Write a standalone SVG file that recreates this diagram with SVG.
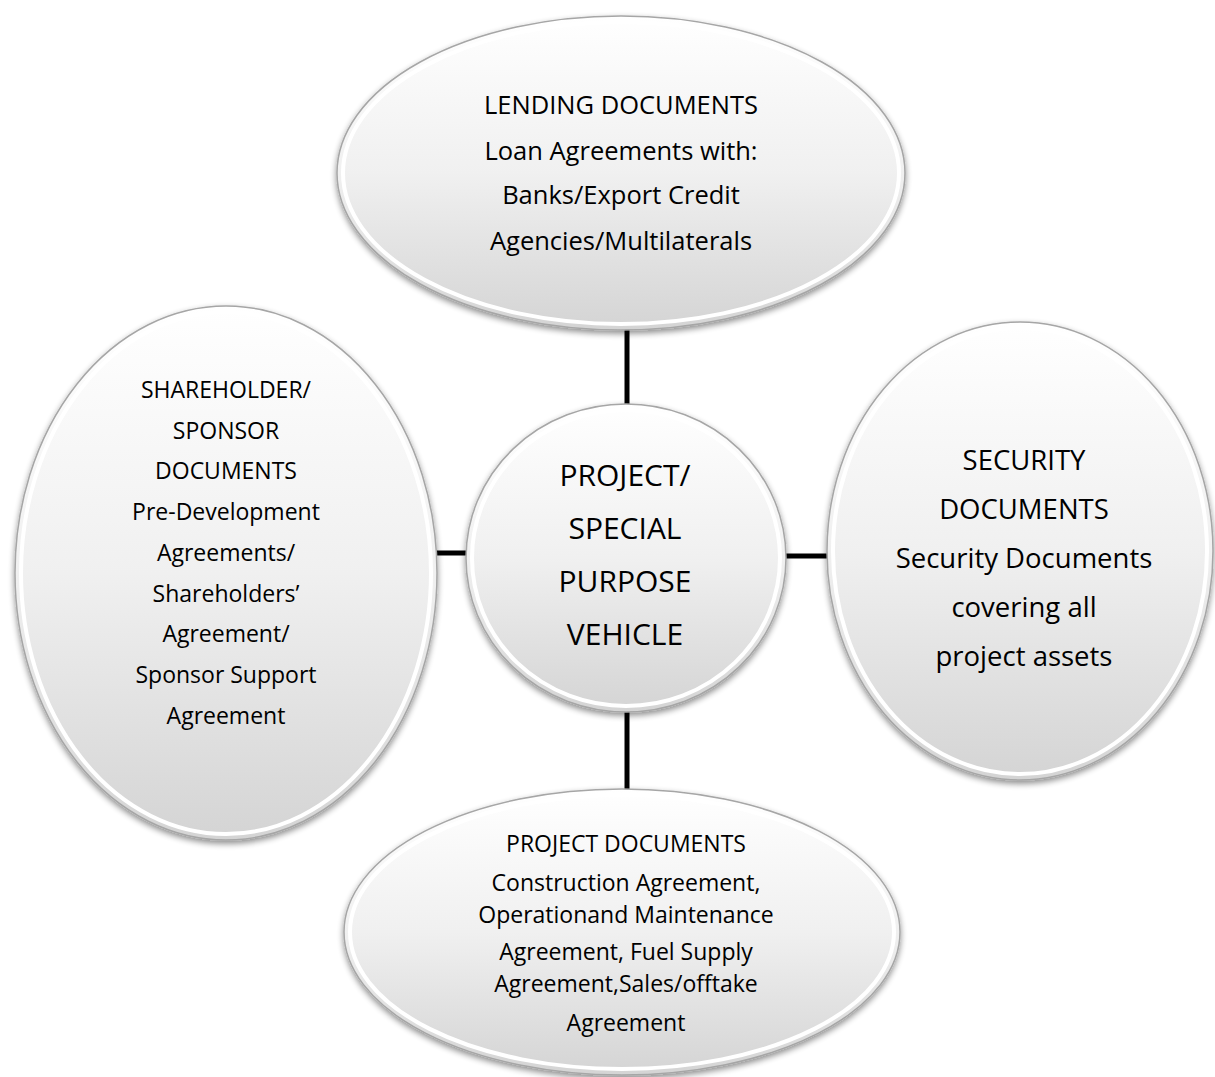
<svg xmlns="http://www.w3.org/2000/svg" width="1215" height="1077" viewBox="0 0 1215 1077">
<style>
.t{font-family:"Open Sans","Liberation Sans",sans-serif;fill:#000;text-anchor:middle}
.top{font-size:25.5px}
.left{font-size:23px}
.right{font-size:27.5px}
.ctr{font-size:30px}
.bot{font-size:23px}
.rim{fill:none;stroke:#ffffff;stroke-width:4}
.edge{stroke:#a6a6a6;stroke-width:1.5}
.conn{stroke:#000;stroke-width:5;fill:none}
</style>
<defs>
<linearGradient id="g" x1="0" y1="0" x2="0" y2="1">
<stop offset="0" stop-color="#ffffff"/>
<stop offset="0.5" stop-color="#f0f0f0"/>
<stop offset="1" stop-color="#d4d4d4"/>
</linearGradient>
<filter id="sh" x="-10%" y="-10%" width="120%" height="120%">
<feGaussianBlur in="SourceAlpha" stdDeviation="3"/>
<feOffset dx="0" dy="3" result="b"/>
<feComponentTransfer><feFuncA type="linear" slope="0.45"/></feComponentTransfer>
<feMerge><feMergeNode/><feMergeNode in="SourceGraphic"/></feMerge>
</filter>
</defs>
<rect width="1215" height="1077" fill="#fff"/>
<g id="connectors">
<line class="conn" x1="627" y1="325" x2="627" y2="410"/>
<line class="conn" x1="433" y1="553" x2="470" y2="553"/>
<line class="conn" x1="783" y1="556" x2="830" y2="556"/>
<line class="conn" x1="627" y1="705" x2="627" y2="795"/>
</g>
<g id="lending">
<ellipse cx="621" cy="173" rx="284" ry="157" fill="url(#g)" class="edge" filter="url(#sh)"/>
<ellipse cx="621" cy="173" rx="278" ry="151" class="rim"/>
<text class="t top" x="621" y="114">LENDING DOCUMENTS</text>
<text class="t top" x="621" y="160">Loan Agreements with:</text>
<text class="t top" x="621" y="204">Banks/Export Credit</text>
<text class="t top" x="621" y="250">Agencies/Multilaterals</text>
</g>
<g id="shareholder">
<ellipse cx="226" cy="573" rx="211" ry="267" fill="url(#g)" class="edge" filter="url(#sh)"/>
<ellipse cx="226" cy="573" rx="205" ry="261" class="rim"/>
<text class="t left" x="226" y="398">SHAREHOLDER/</text>
<text class="t left" x="226" y="439">SPONSOR</text>
<text class="t left" x="226" y="479">DOCUMENTS</text>
<text class="t left" x="226" y="520">Pre-Development</text>
<text class="t left" x="226" y="561">Agreements/</text>
<text class="t left" x="226" y="602">Shareholders’</text>
<text class="t left" x="226" y="642">Agreement/</text>
<text class="t left" x="226" y="683">Sponsor Support</text>
<text class="t left" x="226" y="724">Agreement</text>
</g>
<g id="spv">
<ellipse cx="626" cy="558" rx="160" ry="154" fill="url(#g)" class="edge" filter="url(#sh)"/>
<ellipse cx="626" cy="558" rx="154" ry="148" class="rim"/>
<text class="t ctr" x="625" y="486">PROJECT/</text>
<text class="t ctr" x="625" y="539">SPECIAL</text>
<text class="t ctr" x="625" y="592">PURPOSE</text>
<text class="t ctr" x="625" y="645">VEHICLE</text>
</g>
<g id="security">
<ellipse cx="1020" cy="551" rx="193" ry="229" fill="url(#g)" class="edge" filter="url(#sh)"/>
<ellipse cx="1020" cy="551" rx="187" ry="223" class="rim"/>
<text class="t right" x="1024" y="470">SECURITY</text>
<text class="t right" x="1024" y="519">DOCUMENTS</text>
<text class="t right" x="1024" y="568">Security Documents</text>
<text class="t right" x="1024" y="617">covering all</text>
<text class="t right" x="1024" y="666">project assets</text>
</g>
<g id="project">
<ellipse cx="622" cy="932" rx="278" ry="143" fill="url(#g)" class="edge" filter="url(#sh)"/>
<ellipse cx="622" cy="932" rx="272" ry="137" class="rim"/>
<text class="t bot" x="626" y="852">PROJECT DOCUMENTS</text>
<text class="t bot" x="626" y="891">Construction Agreement,</text>
<text class="t bot" x="626" y="923">Operationand Maintenance</text>
<text class="t bot" x="626" y="960">Agreement, Fuel Supply</text>
<text class="t bot" x="626" y="992">Agreement,Sales/offtake</text>
<text class="t bot" x="626" y="1031">Agreement</text>
</g>
</svg>
